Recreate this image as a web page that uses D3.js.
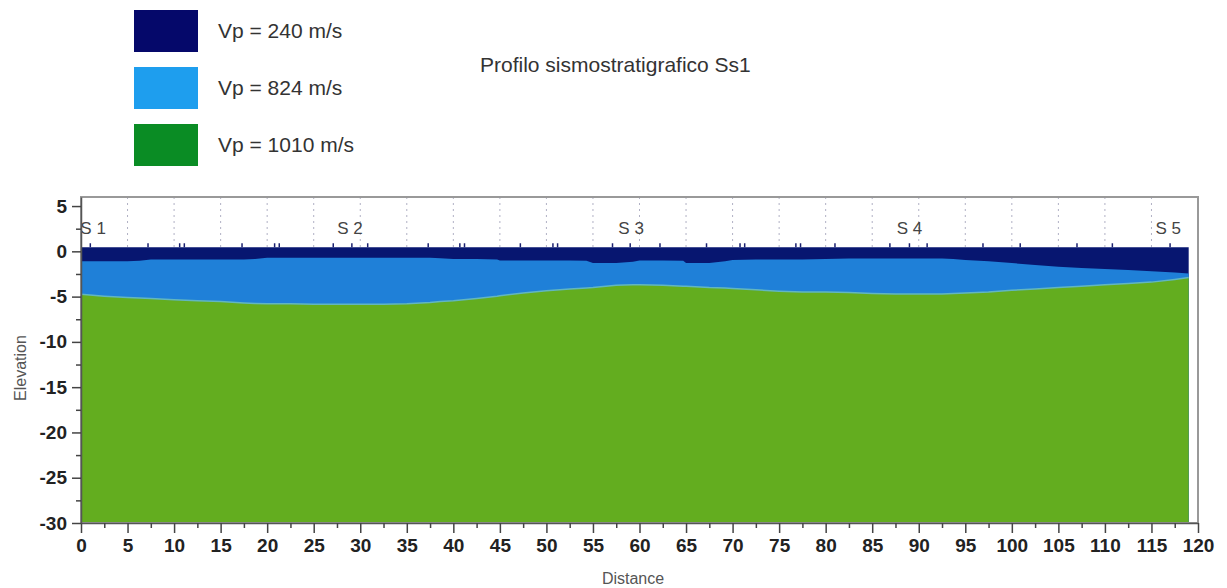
<!DOCTYPE html>
<html><head><meta charset="utf-8">
<script src="https://cdn.jsdelivr.net/npm/d3@7"></script>
<style>body{margin:0;background:#fff;} svg{display:block;font-family:"Liberation Sans",Arial,sans-serif;}</style>
</head><body><svg id="c" width="1227" height="588"></svg>
<script>
// ---- data ----
const distance = [0,2.5,5,6.3,7.5,10,12.5,15,17.5,18.7,20,22.5,25,27.5,30,32.5,35,37.5,38.6,40,42.5,44.7,45,47.5,50,52.5,54.3,55,57.5,59.3,60,62.5,64.7,65,67.5,69.2,70,72.5,75,77.5,80,82.5,85,87.5,90,92.5,93.7,95,97.5,100,102.5,105,107.5,110,112.5,115,117.5,119];
const layer1Bottom = [-1.1,-1.1,-1.1,-1.05,-0.9,-0.9,-0.9,-0.9,-0.9,-0.85,-0.7,-0.7,-0.7,-0.7,-0.7,-0.7,-0.7,-0.7,-0.75,-0.85,-0.85,-0.9,-1.0,-1.0,-1.0,-1.0,-1.05,-1.3,-1.3,-1.15,-1.0,-1.0,-1.05,-1.3,-1.3,-1.1,-0.95,-0.9,-0.9,-0.9,-0.85,-0.8,-0.8,-0.8,-0.8,-0.8,-0.85,-0.95,-1.1,-1.3,-1.5,-1.7,-1.85,-1.95,-2.05,-2.2,-2.35,-2.45];
const layer2Bottom = [-4.75,-4.95,-5.1,-5.15,-5.2,-5.35,-5.45,-5.55,-5.7,-5.75,-5.8,-5.8,-5.85,-5.85,-5.85,-5.85,-5.8,-5.65,-5.55,-5.45,-5.2,-4.95,-4.9,-4.6,-4.35,-4.15,-4.05,-4.0,-3.75,-3.7,-3.7,-3.75,-3.85,-3.85,-4.0,-4.05,-4.1,-4.25,-4.4,-4.5,-4.5,-4.55,-4.65,-4.7,-4.7,-4.7,-4.65,-4.6,-4.5,-4.3,-4.15,-4.0,-3.85,-3.7,-3.55,-3.4,-3.1,-2.9];
const surfaceDistance = [0, 119];
const surfaceElevation = [0.45, 0.45];
const geophones = [1,7.2,10.6,11.1,17.3,20.8,21.3,27.1,29.1,30.8,37.3,40.7,41.2,47.2,50.7,51.2,57.1,59,62.2,67.2,70.8,71.3,76.8,77.3,81,86.9,89,90.9,96.9,100.9,107,110.8,117];
const sensorNames = ["S 1","S 2","S 3","S 4","S 5"];
const sensorDistance = [1.3, 28.9, 59.1, 89, 116.8];
const sensorElevation = 2.55;
const legendLabels = ["Vp = 240 m/s","Vp = 824 m/s","Vp = 1010 m/s"];
const legendColors = ["#05086a","#1e9eee","#0a8c24"];
const layerColors = ["#071670","#1f80d8","#63ad1f"];
const xTickValues = [0,5,10,15,20,25,30,35,40,45,50,55,60,65,70,75,80,85,90,95,100,105,110,115,120];
const yTickValues = [5,0,-5,-10,-15,-20,-25,-30];
const gridDistances = [5,10,15,20,25,30,35,40,45,50,55,60,65,70,75,80,85,90,95,100,105,110,115];

// ---- layout ----
const svg = d3.select("#c");
const x = d3.scaleLinear().domain([0,120]).range([81,1198]);
const y = d3.scaleLinear().domain([-30,6]).range([523,197]);

// legend
const lg = svg.append("g");
legendLabels.forEach((t,i)=>{
  lg.append("rect").attr("x",134).attr("y",10+i*57).attr("width",64).attr("height",42).attr("fill",legendColors[i]);
  lg.append("text").attr("x",218).attr("y",31+i*57).attr("dy","0.35em").attr("font-size",21).attr("fill","#333").text(t);
});
svg.append("text").attr("x",480).attr("y",65).attr("dy","0.35em").attr("font-size",21).attr("fill","#333").text("Profilo sismostratigrafico Ss1");

// gridlines above surface
svg.append("g").selectAll("line").data(gridDistances).join("line")
  .attr("x1",d=>x(d)).attr("x2",d=>x(d)).attr("y1",y(6)).attr("y2",y(surfaceElevation[0]))
  .attr("stroke","#b0b0c4").attr("stroke-width",1).attr("stroke-dasharray","2,4");

// layers
const surfPts = surfaceDistance.map((d,i)=>[d,surfaceElevation[i]]);
svg.append("path").datum(surfPts)
  .attr("d", d3.area().x(d=>x(d[0])).y0(y(-30)).y1(d=>y(d[1])))
  .attr("fill",layerColors[0]);
const pts = distance.map((d,i)=>({d, b1:layer1Bottom[i], b2:layer2Bottom[i]}));
svg.append("path").datum(pts)
  .attr("d", d3.area().x(p=>x(p.d)).y0(y(-30)).y1(p=>y(p.b1)))
  .attr("fill",layerColors[1]);
svg.append("path").datum(pts)
  .attr("d", d3.area().x(p=>x(p.d)).y0(y(-30)).y1(p=>y(p.b2)))
  .attr("fill",layerColors[2]);
svg.append("path").datum(pts)
  .attr("d", d3.line().x(p=>x(p.d)).y(p=>y(p.b2)))
  .attr("fill","none").attr("stroke","#62b6c0").attr("stroke-width",1.5);

// geophone marks
svg.append("g").selectAll("line").data(geophones).join("line")
  .attr("x1",d=>x(d)).attr("x2",d=>x(d)).attr("y1",y(surfaceElevation[0])).attr("y2",y(surfaceElevation[0])-4)
  .attr("stroke","#1a2070").attr("stroke-width",1.5);

// sensor labels
svg.append("g").selectAll("text").data(sensorNames).join("text")
  .attr("x",(d,i)=>x(sensorDistance[i])).attr("y",y(sensorElevation)).attr("dy","0.35em")
  .attr("text-anchor","middle").attr("font-size",17).attr("fill","#444").text(d=>d);

// frame
svg.append("rect").attr("x",x(0)).attr("y",y(6)).attr("width",x(120)-x(0)).attr("height",y(-30)-y(6))
  .attr("fill","none").attr("stroke","#999").attr("stroke-width",2);

// axes
const fmt = d => String(d);
const xAxis = svg.append("g").attr("transform",`translate(0,${y(-30)})`)
  .call(d3.axisBottom(x).tickValues(xTickValues).tickFormat(fmt).tickSize(10).tickSizeOuter(0).tickPadding(6));
const xMinor = svg.append("g").attr("transform",`translate(0,${y(-30)})`)
  .call(d3.axisBottom(x).tickValues(d3.range(2.5,120,5)).tickSize(5).tickFormat(""));
const yAxis = svg.append("g").attr("transform",`translate(${x(0)},0)`)
  .call(d3.axisLeft(y).tickValues(yTickValues).tickFormat(fmt).tickSize(9).tickSizeOuter(0).tickPadding(5));
const yMinor = svg.append("g").attr("transform",`translate(${x(0)},0)`)
  .call(d3.axisLeft(y).tickValues(d3.range(-27.5,6,5)).tickSize(5).tickFormat(""));
[xAxis,yAxis,xMinor,yMinor].forEach(g=>{
  g.selectAll("path.domain").attr("stroke","#555").attr("stroke-width",1.5);
  g.selectAll("line").attr("stroke","#444").attr("stroke-width",1.5);
  g.selectAll("text").attr("font-size",19).attr("font-weight","bold").attr("fill","#222").attr("font-family","Liberation Sans, Arial, sans-serif");
});
xMinor.select("path.domain").remove();
yMinor.select("path.domain").remove();

// axis titles
svg.append("text").attr("x",633).attr("y",578).attr("dy","0.35em").attr("text-anchor","middle")
  .attr("font-size",16).attr("fill","#555").text("Distance");
svg.append("text").attr("transform",`translate(20,368) rotate(-90)`).attr("dy","0.35em")
  .attr("text-anchor","middle").attr("font-size",16).attr("fill","#555").text("Elevation");
</script></body></html>
